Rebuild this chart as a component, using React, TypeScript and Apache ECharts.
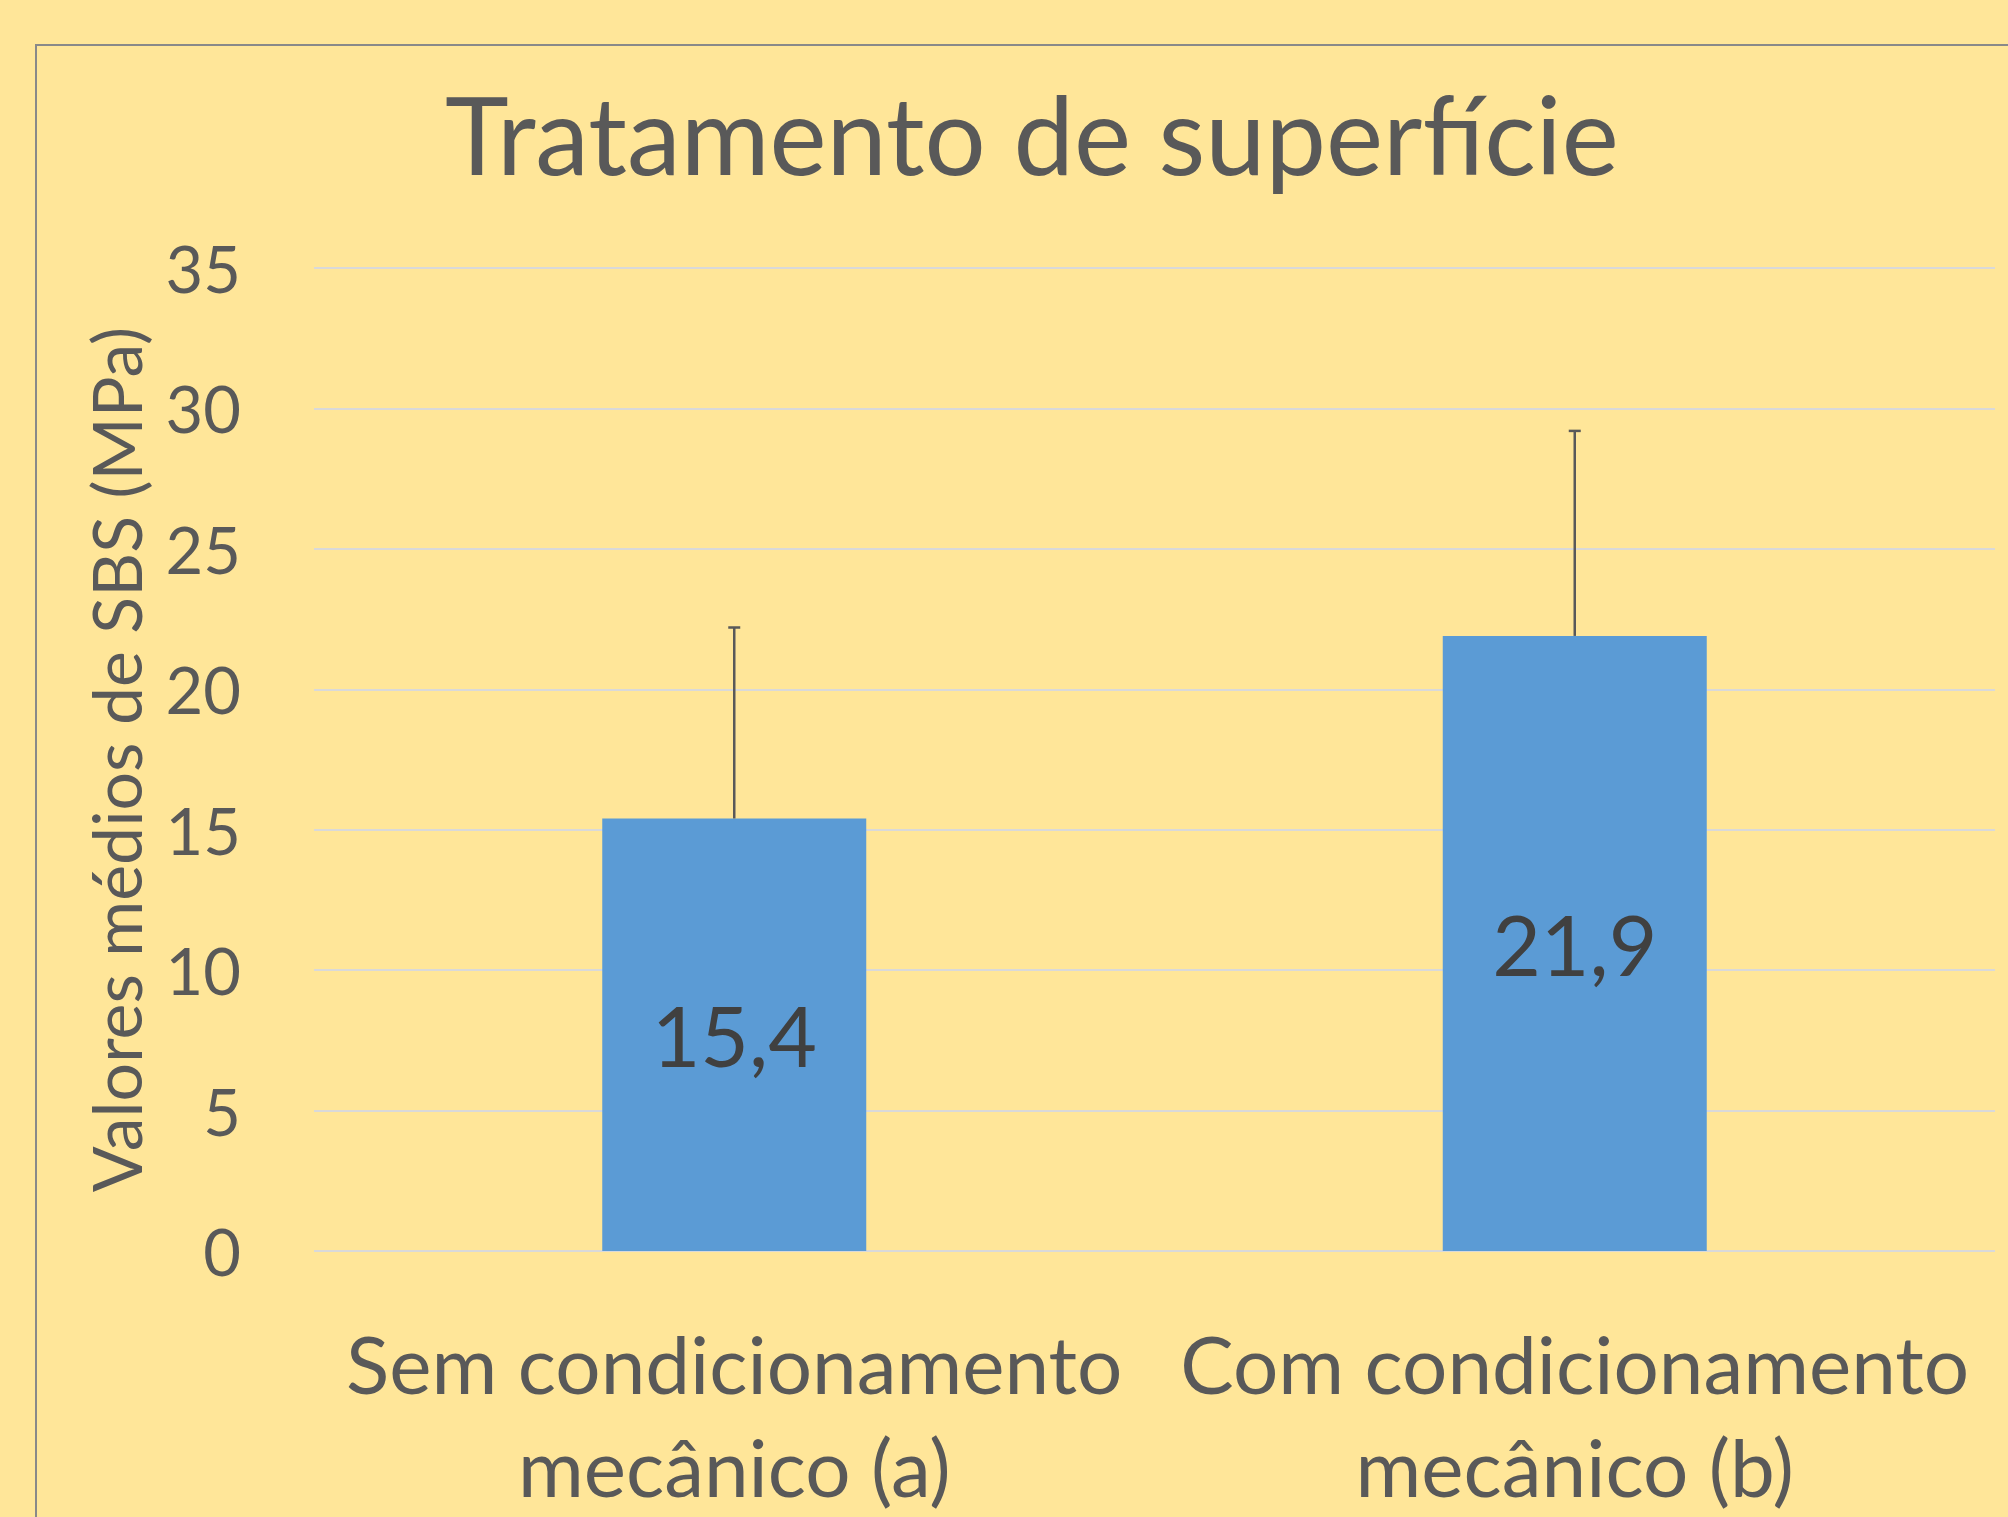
import React, { useEffect, useRef } from "react";
import * as echarts from "echarts";

const categories = ["Sem condicionamento\nmecânico (a)", "Com condicionamento\nmecânico (b)"];
const means = [15.4, 21.9];
const errorPlus = [6.8, 7.3];
const yTicks = { min: 0, max: 35, interval: 5 };
const titleText = "Tratamento de superfície";
const yAxisName = "Valores médios de SBS (MPa)";

const FONT = "Lato, 'Open Sans', sans-serif";

export default function App() {
  const ref = useRef<HTMLDivElement>(null);
  useEffect(() => {
    document.body.style.margin = "0";
    document.body.style.overflow = "hidden";
    document.body.style.background = "#FFE699";
    if (!ref.current) return;
    const chart = echarts.init(ref.current, undefined, { renderer: "svg" });
    const errData = means.map((m, i) => [i, m, m + errorPlus[i]]);
    chart.setOption({
      animation: false,
      backgroundColor: "#FFE699",
      textStyle: { fontFamily: FONT },
      title: {
        text: titleText,
        left: 440,
        top: 74,
        textStyle: { fontFamily: FONT, fontSize: 108, fontWeight: "normal", color: "#595959" },
      },
      graphic: [
        {
          type: "rect",
          shape: { x: 36, y: 45, width: 2100, height: 1600 },
          style: { fill: "none", stroke: "#898989", lineWidth: 2 },
          silent: true,
        },
      ],
      grid: { left: 314, right: 13, top: 268, bottom: 256 },
      xAxis: {
        type: "category",
        data: categories,
        axisLine: { show: false },
        axisTick: { show: false },
        axisLabel: {
          fontFamily: FONT,
          fontSize: 80,
          lineHeight: 103,
          color: "#595959",
          margin: 60,
          interval: 0,
        },
      },
      yAxis: {
        type: "value",
        min: yTicks.min,
        max: yTicks.max,
        interval: yTicks.interval,
        name: yAxisName,
        nameLocation: "middle",
        nameRotate: 90,
        nameGap: 165,
        nameTextStyle: { fontFamily: FONT, fontSize: 68, color: "#595959" },
        axisLine: { show: false },
        axisTick: { show: false },
        axisLabel: { fontFamily: FONT, fontSize: 65, color: "#595959", margin: 73 },
        splitLine: { lineStyle: { color: "#D9D9D9", width: 2 } },
      },
      series: [
        {
          type: "bar",
          data: means,
          barWidth: 264,
          itemStyle: { color: "#5B9BD5" },
          label: {
            show: true,
            position: "inside",
            fontFamily: FONT,
            fontSize: 84,
            color: "#404040",
            formatter: (p: any) => String(p.value).replace(".", ","),
          },
          z: 2,
        },
        {
          type: "custom",
          data: errData,
          encode: { x: 0, y: [1, 2] },
          z: 3,
          renderItem: (params: any, api: any) => {
            const base = api.coord([api.value(0), api.value(1)]);
            const top = api.coord([api.value(0), api.value(2)]);
            const half = 6;
            const style = { stroke: "#595959", lineWidth: 2.5 };
            return {
              type: "group",
              children: [
                { type: "line", shape: { x1: top[0], y1: top[1], x2: base[0], y2: base[1] }, style },
                { type: "line", shape: { x1: top[0] - half, y1: top[1], x2: top[0] + half, y2: top[1] }, style },
              ],
            };
          },
        },
      ],
    });
    return () => chart.dispose();
  }, []);
  return <div ref={ref} style={{ width: 2008, height: 1517 }} />;
}
